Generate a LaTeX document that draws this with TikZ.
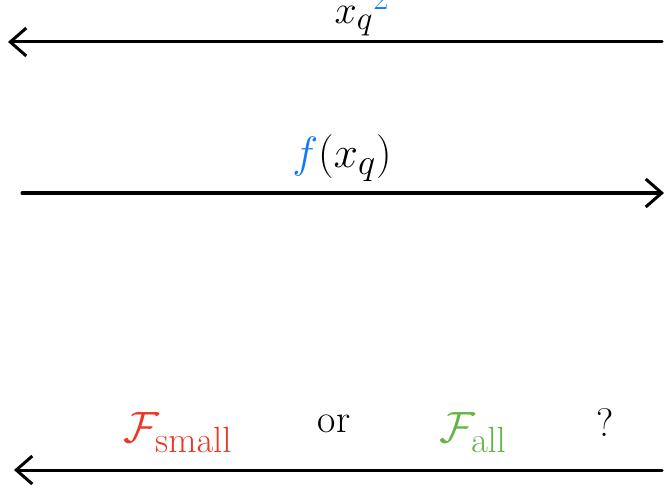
\documentclass[tikz,border=0pt]{standalone}
\usetikzlibrary{arrows.meta}
\definecolor{penblue}{RGB}{20,120,250}
\definecolor{penred}{RGB}{235,55,35}
\definecolor{pengreen}{RGB}{100,180,70}
\begin{document}
\begin{tikzpicture}[x=1pt,y=-1pt,
  line/.style={line width=3pt, line cap=round},
  tip/.style={-{Straight Barb[length=16pt,width=28pt,line width=3pt]}},
  lab/.style={font=\Huge, scale=1.6, inner sep=0pt}]
\useasboundingbox (0,0) rectangle (666,489);
\clip (0,0) rectangle (666,489);
% top arrow
\coordinate (t1) at (662,42);
\coordinate (t2) at (8,42);
\draw[line,tip] (t1) -- (t2);
\node[lab, anchor=base] (ltop) at (362,24) {$x_{q}{}^{\textcolor{penblue}{2}}$};
% middle arrow
\coordinate (m1) at (22,193);
\coordinate (m2) at (664,193);
\draw[line,tip] (m1) -- (m2);
\node[lab, anchor=base, scale=1.1] (lmid) at (342,168) {$\textcolor{penblue}{f}(x_q)$};
% bottom arrow
\coordinate (b1) at (662,470);
\coordinate (b2) at (14,470);
\draw[line,tip] (b1) -- (b2);
\node[lab, anchor=base, text=penred, scale=1.1] (lsmall) at (178,442) {$\mathcal{F}_{\mathrm{small}}$};
\node[lab, anchor=base] (lor) at (334,432) {or};
\node[lab, anchor=base, text=pengreen, scale=1.1] (lall) at (473,442) {$\mathcal{F}_{\mathrm{all}}$};
\node[lab, anchor=base] (lq) at (605,436) {?};
\end{tikzpicture}
\end{document}
